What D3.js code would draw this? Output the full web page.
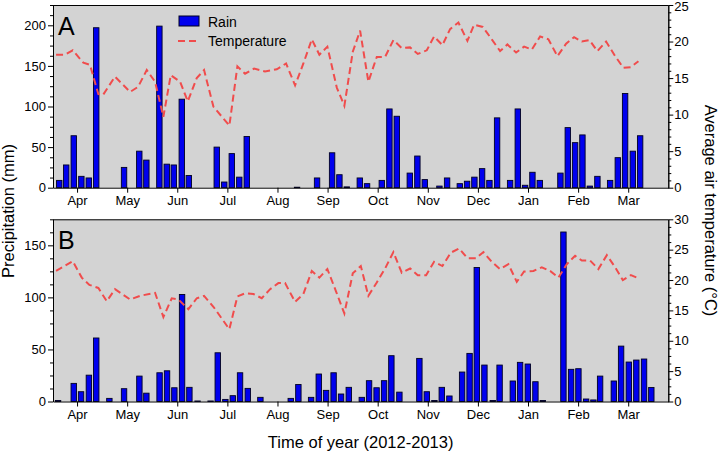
<!DOCTYPE html>
<html><head><meta charset="utf-8">
<script src="https://cdn.jsdelivr.net/npm/d3@7"></script>
<style>body{margin:0;background:#fff}svg text{font-family:"Liberation Sans",Arial,sans-serif}</style>
</head><body><svg id="c" width="719" height="452"></svg>
<script>
// ---------- data (x in month units: Apr tick = 0 ... Mar tick = 11) ----------
const monthLabels = ["Apr","May","Jun","Jul","Aug","Sep","Oct","Nov","Dec","Jan","Feb","Mar"];
const monthTicks  = [0,1,2,3,4,5,6,7,8,9,10,11];

const rainA_pos = [-0.355,-0.216,-0.066,0.086,0.234,0.383,0.938,1.242,1.383,1.643,1.790,1.930,2.090,2.230,2.788,2.938,3.088,3.238,3.387,4.391,4.790,5.090,5.236,5.383,5.643,5.788,6.082,6.234,6.381,6.641,6.792,6.940,7.232,7.385,7.639,7.784,7.930,8.084,8.230,8.383,8.643,8.796,8.942,9.088,9.235,9.647,9.794,9.940,10.086,10.234,10.385,10.639,10.792,10.938,11.092,11.238];
const rainA = [9,28,64,14,12,197,25,45,34,199,29,28,109,15,50,7,42,13,63,0.6,12,43,16,1,12,5,9,97,88,18,39,10,2,12,5,8,13,23.5,9,86,9,97,3,19,9,18,74,55.5,65,2,14,9,37,116,45,64];

const tempA_pos = [-0.419,-0.240,-0.086,0.126,0.259,0.425,0.519,0.758,1.058,1.218,1.391,1.557,1.723,1.870,2.056,2.210,2.389,2.535,2.721,3.040,3.200,3.353,3.533,3.752,3.986,4.172,4.351,4.517,4.685,4.836,4.996,5.184,5.335,5.503,5.649,5.814,5.982,6.148,6.313,6.481,6.647,6.800,6.980,7.126,7.291,7.445,7.611,7.790,7.924,8.098,8.277,8.443,8.589,8.762,8.922,9.076,9.242,9.407,9.587,9.760,9.920,10.074,10.226,10.385,10.559,10.739,10.904,11.052,11.204];
const tempA = [18.2,18.2,18.8,17.1,16.8,12.8,12.7,15.2,13.1,13.8,16.1,14.5,9.7,15.4,14.5,11.8,15.0,16.1,11.1,8.5,16.6,15.6,16.3,15.9,16.2,17.0,14.0,17.0,20.3,18.2,19.3,13.7,11.2,18.6,21.5,14.5,17.9,17.9,20.2,19.1,19.2,18.3,18.8,20.7,19.5,21.7,22.6,20.1,22.3,22.0,20.3,18.7,19.6,18.5,19.3,18.9,20.7,20.3,18.0,19.7,20.6,20.0,20.2,18.7,20.0,18.0,16.4,16.5,17.3];

const rainB_pos = [-0.379,-0.066,0.080,0.236,0.383,0.645,0.938,1.244,1.383,1.647,1.796,1.942,2.096,2.242,2.405,2.665,2.808,2.960,3.108,3.253,3.407,3.659,4.265,4.417,4.671,4.824,4.970,5.120,5.269,5.423,5.683,5.828,5.978,6.128,6.273,6.433,6.832,6.980,7.132,7.279,7.431,7.685,7.834,7.978,8.130,8.297,8.433,8.697,8.842,8.996,9.148,9.295,9.707,9.860,10.006,10.160,10.305,10.439,10.713,10.858,11.012,11.162,11.316,11.461];
const rainB = [1,17.4,9.4,25.3,61,3,12.3,24.4,8,27.6,29.5,13.2,102.8,13.6,0.5,0.5,46.8,2,5.6,27.6,12.6,4,3,16.3,4,26.4,10.7,27.6,7.2,13.6,4,20,13.2,20,44,9,41.4,9.4,1,13.6,5.3,28.3,46.2,128.7,35,1,35,19.7,37.6,36,19,1,162.8,30.9,31.5,2.4,1.5,24.4,19.7,53.2,37.9,39.8,40.8,13.5];

const tempB_pos = [-0.419,-0.086,0.094,0.246,0.425,0.593,0.758,1.058,1.257,1.557,1.723,1.890,2.022,2.222,2.389,2.535,2.721,3.040,3.200,3.353,3.519,3.687,3.853,4.018,4.152,4.351,4.517,4.685,4.836,4.996,5.170,5.335,5.503,5.663,5.814,5.982,6.148,6.313,6.481,6.647,6.800,6.966,7.126,7.291,7.459,7.625,7.790,7.964,8.110,8.277,8.443,8.609,8.776,8.922,9.108,9.275,9.441,9.607,9.774,9.940,10.074,10.240,10.405,10.573,10.739,10.892,11.052,11.204];
const tempB = [21.5,23.1,20.4,19.2,18.7,16.5,18.5,16.8,17.4,17.9,13.9,17.0,16.8,15.2,17.0,17.4,15.6,11.9,17.3,17.8,17.7,17.0,18.5,19.5,19.5,16.4,17.7,21.5,20.4,21.8,18.1,14.5,21.1,22.3,17.4,19.6,21.9,24.6,21.2,21.9,20.8,20.8,23.0,22.3,24.5,25.2,23.6,23.6,24.6,23.0,21.8,22.6,19.7,21.4,21.5,22.1,21.5,20.4,22.6,24.0,23.2,23.2,21.8,24.1,22.1,20.0,20.8,20.3];

const rainTicksA = [0,50,100,150,200], rainMaxA = 225;
const tempTicksA = [0,5,10,15,20,25], tempMaxA = 25, tempMinorA = 1;
const rainTicksB = [0,50,100,150], rainMaxB = 175;
const tempTicksB = [0,5,10,15,20,25,30], tempMaxB = 30, tempMinorB = 1.25;
const rainMinor = 12.5;

// ---------- layout ----------
const svg = d3.select("#c");
const L = 53, R = 668.3;
const x = d3.scaleLinear().domain([-0.48, 11.8]).range([L, R]);
const bw = x(0.108) - x(0);
const BAR = "#0000ee", LINE = "#f04c4c", BG = "#d3d3d3";

const panels = [
  {top:5, bottom:187.7, rp:rainA_pos, rv:rainA, tp:tempA_pos, tv:tempA, rTicks:rainTicksA, rMax:rainMaxA, tTicks:tempTicksA, tMax:tempMaxA, tMinor:tempMinorA, label:"A"},
  {top:219.3, bottom:401.5, rp:rainB_pos, rv:rainB, tp:tempB_pos, tv:tempB, rTicks:rainTicksB, rMax:rainMaxB, tTicks:tempTicksB, tMax:tempMaxB, tMinor:tempMinorB, label:"B"}
];

function styleAxis(g, fs){
  g.selectAll("path,line").attr("stroke","#000").attr("stroke-width",1);
  g.selectAll("text").attr("font-size",fs).attr("fill","#000").attr("font-family","Liberation Sans, Arial, sans-serif");
}

panels.forEach(p => {
  const y = d3.scaleLinear().domain([0,p.rMax]).range([p.bottom,p.top]);
  const yt = d3.scaleLinear().domain([0,p.tMax]).range([p.bottom,p.top]);
  const g = svg.append("g");
  g.append("rect").attr("x",L).attr("y",p.top).attr("width",R-L).attr("height",p.bottom-p.top).attr("fill",BG);

  g.selectAll(".bar").data(p.rv).join("rect")
    .attr("x",(d,i)=>x(p.rp[i])-bw/2).attr("y",d=>y(d))
    .attr("width",bw).attr("height",d=>y(0)-y(d))
    .attr("fill",BAR).attr("stroke","#000022").attr("stroke-width",0.9);

  const line = d3.line().x((d,i)=>x(p.tp[i])).y(d=>yt(d));
  g.append("path").datum(p.tv).attr("d",line).attr("fill","none")
    .attr("stroke",LINE).attr("stroke-width",2).attr("stroke-dasharray","7,4");

  // frame top
  g.append("line").attr("x1",L).attr("x2",R).attr("y1",p.top+0.5).attr("y2",p.top+0.5).attr("stroke","#000");

  // left axis
  const minorR = d3.range(0, p.rMax+0.01, rainMinor).filter(v => !p.rTicks.includes(v));
  const gl = g.append("g").attr("transform",`translate(${L},0)`);
  gl.call(d3.axisLeft(y).tickValues(p.rTicks).tickSize(5).tickSizeOuter(0).tickPadding(2));
  styleAxis(gl, 13);
  const glm = g.append("g").attr("transform",`translate(${L},0)`);
  glm.call(d3.axisLeft(y).tickValues(minorR).tickSize(3).tickSizeOuter(0).tickFormat(""));
  styleAxis(glm, 13);

  // right axis
  const minorT = d3.range(0, p.tMax+0.01, p.tMinor).filter(v => !p.tTicks.some(t=>Math.abs(t-v)<1e-6));
  const gr = g.append("g").attr("transform",`translate(${R},0)`);
  gr.call(d3.axisRight(yt).tickValues(p.tTicks).tickSize(5).tickSizeOuter(0).tickPadding(1));
  styleAxis(gr, 13);
  // keep the top-most label fully inside the picture
  gr.selectAll(".tick text").filter(d => d === p.tMax && yt(d) < 8).attr("dy","0.45em");
  const grm = g.append("g").attr("transform",`translate(${R},0)`);
  grm.call(d3.axisRight(yt).tickValues(minorT).tickSize(3).tickSizeOuter(0).tickFormat(""));
  styleAxis(grm, 13);

  // bottom axis
  const gb = g.append("g").attr("transform",`translate(0,${p.bottom})`);
  gb.call(d3.axisBottom(x).tickValues(monthTicks).tickFormat((d,i)=>monthLabels[i]).tickSize(5).tickSizeOuter(0).tickPadding(3));
  styleAxis(gb, 13);

  g.append("text").attr("x",58).attr("y",p.top+30).attr("font-size",25).text(p.label);
});

// legend (panel A)
const lg = svg.append("g");
lg.append("rect").attr("x",179).attr("y",16).attr("width",20).attr("height",10).attr("fill",BAR).attr("stroke","#000022");
lg.append("text").attr("x",208).attr("y",26.5).attr("font-size",14).text("Rain");
lg.append("line").attr("x1",178).attr("x2",200).attr("y1",41).attr("y2",41).attr("stroke",LINE).attr("stroke-width",2).attr("stroke-dasharray","7,4");
lg.append("text").attr("x",208).attr("y",45.5).attr("font-size",14).text("Temperature");

// axis titles
svg.append("text").attr("transform","translate(13.5,211) rotate(-90)").attr("text-anchor","middle").attr("font-size",16.5).text("Precipitation (mm)");
svg.append("text").attr("transform","translate(705,210.5) rotate(90)").attr("text-anchor","middle").attr("font-size",16.5).text("Average air temperature (°C)");
svg.append("text").attr("x",(L+R)/2).attr("y",448).attr("text-anchor","middle").attr("font-size",16.5).text("Time of year (2012-2013)");
</script></body></html>
